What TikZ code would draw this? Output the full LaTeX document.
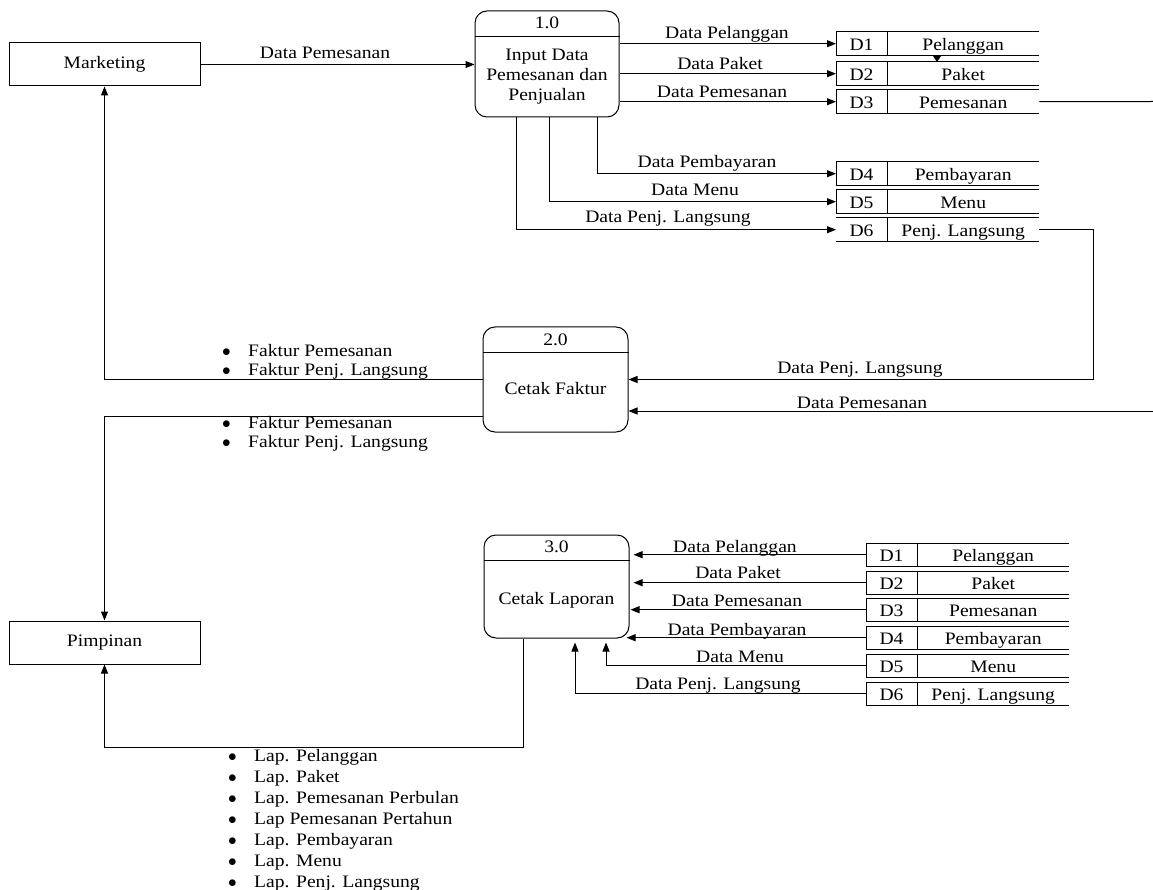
\documentclass[tikz,border=0pt]{standalone}
\usepackage{fontspec}
\setmainfont{Liberation Serif}[FakeStretch=1.12]
\usetikzlibrary{arrows.meta,calc}
\newcommand\bul{\makebox[25pt][l]{\hspace{-1pt}$\bullet$}}
\newcommand\dstore[5]{%
  \node[storecell, anchor=north west] (#1) at (#2,#3) {};
  \draw[line] (#1.north east) -- (#1.north west) -- (#1.south west) -- (#1.south east);
  \draw[line] ([xshift=51pt]#1.north west) -- ([xshift=51pt]#1.south west);
  \node[lbl] at ($(#1.west)+(25.5pt,-3pt)$) {#4};
  \node[lbl] at ($(#1.center)+(25.5pt,-3pt)$) {#5};
}
\newcommand\dstoreopen[5]{%
  \node[storecell, anchor=north west] (#1) at (#2,#3) {};
  \draw[line] (#1.north east) -- (#1.north west);
  \draw[line] (#1.south west) -- (#1.south east);
  \draw[line] ([xshift=51pt]#1.north west) -- ([xshift=51pt]#1.south west);
  \node[lbl] at ($(#1.west)+(25.5pt,-3pt)$) {#4};
  \node[lbl] at ($(#1.center)+(25.5pt,-3pt)$) {#5};
}
\begin{document}
\begin{tikzpicture}[x=1pt,y=-1pt,
  font=\fontsize{17.5}{20}\selectfont,
  line/.style={line width=1pt},
  flow/.style={line width=1pt,-{Triangle[length=9pt,width=7pt]}},
  txt/.style={inner sep=0pt},
  lbl/.style={inner sep=0pt,text height=12pt,text depth=4pt},
  entity/.style={draw,line width=1pt,minimum width=191pt,minimum height=43pt,inner sep=0pt,text height=12pt,text depth=4pt},
  proc/.style={draw,line width=1pt,rounded corners=12pt,inner sep=0pt},
  storecell/.style={minimum width=203pt,minimum height=23pt,inner sep=0pt}]
\useasboundingbox (0,0) rectangle (1153,890);

% entities
\node[entity] (mk) at (104.5,64.5) {Marketing};
\node[entity] (pm) at (104.5,642.5) {Pimpinan};

% processes
\node[proc, minimum width=144pt, minimum height=106pt] (p1) at (547,64) {};
\draw[line] ([yshift=-26pt]p1.north west) -- ([yshift=-26pt]p1.north east);
\node[lbl] at (547,25) {1.0};
\node[txt, align=center] at (547,77) {Input Data\\Pemesanan dan\\Penjualan};

\node[proc, minimum width=145pt, minimum height=105pt] (p2) at (555.5,379.5) {};
\draw[line] ([yshift=-26pt]p2.north west) -- ([yshift=-26pt]p2.north east);
\node[lbl] at (555.5,341) {2.0};
\node[lbl] at (555.5,390) {Cetak Faktur};

\node[proc, minimum width=145pt, minimum height=103pt] (p3) at (556.5,586.5) {};
\draw[line] ([yshift=-26pt]p3.north west) -- ([yshift=-26pt]p3.north east);
\node[lbl] at (556.5,548) {3.0};
\node[lbl] at (556.5,600) {Cetak Laporan};

% upper stores
\dstore{s1}{836}{32}{D1}{Pelanggan}
\dstore{s2}{836}{62}{D2}{Paket}
\dstore{s3}{836}{90}{D3}{Pemesanan}
\dstore{s4}{836}{162}{D4}{Pembayaran}
\dstore{s5}{836}{190}{D5}{Menu}
\dstoreopen{s6}{836}{218}{D6}{Penj. Langsung}
\fill (933,56) -- (941,56) -- (937,62) -- cycle;

% lower stores
\dstore{t1}{866}{543}{D1}{Pelanggan}
\dstore{t2}{866}{571}{D2}{Paket}
\dstore{t3}{866}{598}{D3}{Pemesanan}
\dstore{t4}{866}{626}{D4}{Pembayaran}
\dstore{t5}{866}{654}{D5}{Menu}
\dstore{t6}{866}{682}{D6}{Penj. Langsung}

\coordinate (e3) at (1153,101.5);
\coordinate (e2) at (1153,411);

% flows from Marketing / process 1
\draw[flow] (mk.east) -- (mk.east -| p1.west);
\node[lbl] at (325,55) {Data Pemesanan};
\draw[flow] (p1.east |- s1.west) -- (s1.west);
\node[lbl] at (727,35) {Data Pelanggan};
\draw[flow] (p1.east |- s2.west) -- (s2.west);
\node[lbl] at (720,66) {Data Paket};
\draw[flow] (p1.east |- s3.west) -- (s3.west);
\node[lbl] at (722,94) {Data Pemesanan};
\draw[flow] ([xshift=50pt]p1.south) |- (s4.west);
\node[lbl] at (707,164) {Data Pembayaran};
\draw[flow] ([xshift=2pt]p1.south) |- (s5.west);
\node[lbl] at (695,192) {Data Menu};
\draw[flow] ([xshift=-31pt]p1.south) |- (s6.west);
\node[lbl] at (668,219) {Data Penj. Langsung};

% flows to process 2
\draw[line] (s3.east) -- (e3);
\draw[flow] (s6.east) -- ++(54,0) |- (p2.east);
\node[lbl] at (860,369) {Data Penj. Langsung};
\draw[flow] (e2) -- (e2 -| p2.east);
\node[lbl] at (862,404) {Data Pemesanan};

% flows out of process 2
\draw[flow] (p2.west) -| (mk.south);
\node[txt, anchor=west, align=left, font=\fontsize{17.5}{19}\selectfont] at (223,361.5)
  {\bul Faktur Pemesanan\\\bul Faktur Penj. Langsung};
\draw[flow] ([yshift=-36.5pt]p2.west) -| (pm.north);
\node[txt, anchor=west, align=left, font=\fontsize{17.5}{19}\selectfont] at (223,433.5)
  {\bul Faktur Pemesanan\\\bul Faktur Penj. Langsung};

% flows to process 3
\draw[flow] (t1.west) -- ([xshift=4pt]p3.east |- t1.west);
\node[lbl] at (735,548) {Data Pelanggan};
\draw[flow] (t2.west) -- ([xshift=4pt]p3.east |- t2.west);
\node[lbl] at (738,574) {Data Paket};
\draw[flow] (t3.west) -- ([xshift=1pt]p3.east |- t3.west);
\node[lbl] at (737,602) {Data Pemesanan};
\draw[flow] (t4.west) -- ([xshift=-3pt]p3.east |- t4.west);
\node[lbl] at (737,631) {Data Pembayaran};
\draw[flow, shorten >=4pt] (t5.west) -| ([xshift=49.5pt]p3.south);
\node[lbl] at (740,658) {Data Menu};
\draw[flow, shorten >=4pt] (t6.west) -| ([xshift=18.5pt]p3.south);
\node[lbl] at (718,685) {Data Penj. Langsung};

% process 3 to Pimpinan
\draw[flow] ([xshift=-33.5pt]p3.south) -- ++(0,109) -| (pm.south);
\node[txt, anchor=west, align=left, font=\fontsize{17.5}{21}\selectfont] at (229,820.5)
  {\bul Lap. Pelanggan\\
   \bul Lap. Paket\\
   \bul Lap. Pemesanan Perbulan\\
   \bul Lap Pemesanan Pertahun\\
   \bul Lap. Pembayaran\\
   \bul Lap. Menu\\
   \bul Lap. Penj. Langsung};
\end{tikzpicture}
\end{document}
